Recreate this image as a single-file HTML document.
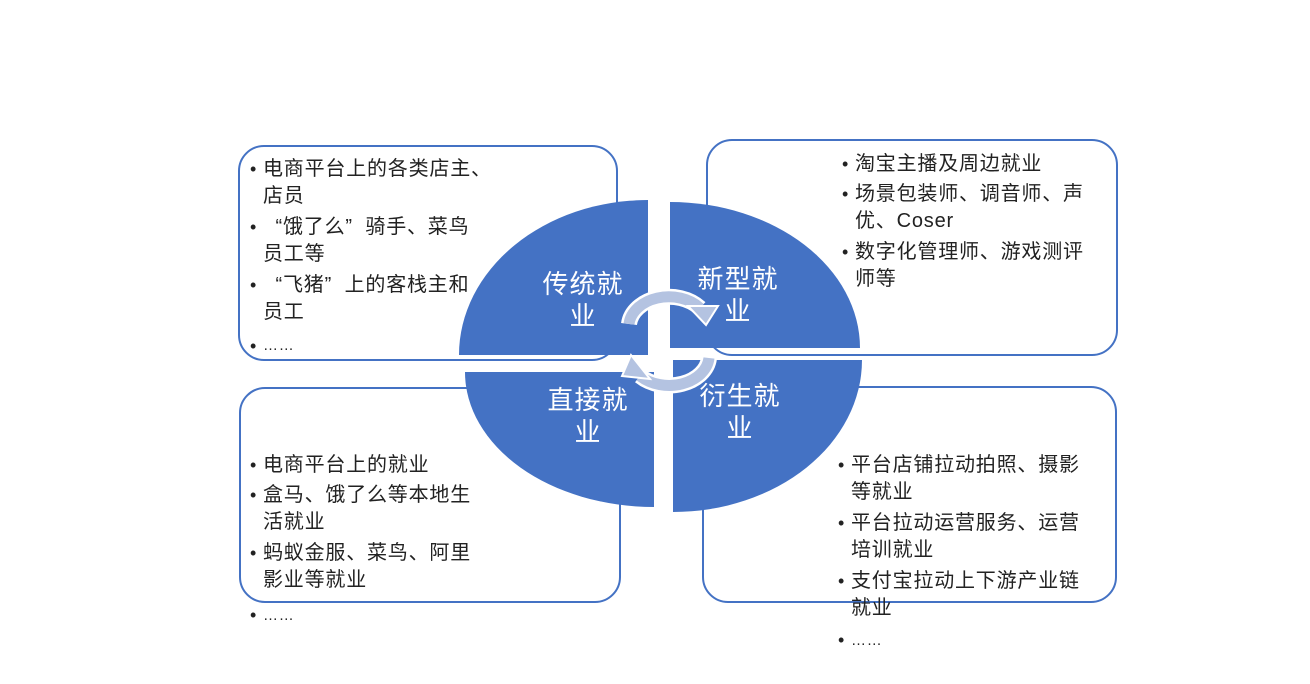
<!DOCTYPE html>
<html><head><meta charset="utf-8"><style>
html,body{margin:0;padding:0;background:#fff;}
body{width:1310px;height:684px;position:relative;overflow:hidden;font-family:"Liberation Sans","Noto Sans CJK SC",sans-serif;}
.box{position:absolute;border:2.5px solid #4472c4;border-radius:26px;box-sizing:border-box;background:#fff;}
.t{position:absolute;font-size:20px;color:#222;white-space:nowrap;letter-spacing:0.8px;line-height:24px;}
.b{position:absolute;font-size:18px;color:#222;line-height:24px;}
.q{display:inline-block;width:20px;text-align:right;}
.q2{display:inline-block;width:20px;text-align:left;}
svg{position:absolute;left:0;top:0;}
.lab{position:absolute;color:#fff;font-size:26px;line-height:32px;text-align:center;width:120px;letter-spacing:1px;}
</style></head><body>
<div class="box" style="left:238px;top:145px;width:380px;height:216px"></div>
<div class="box" style="left:706px;top:139px;width:412px;height:217px"></div>
<div class="box" style="left:239px;top:387px;width:382px;height:216px"></div>
<div class="box" style="left:702px;top:386px;width:415px;height:217px"></div>

<!-- TL -->
<div class="b" style="left:250px;top:157px">•</div><div class="t" style="left:263px;top:157px">电商平台上的各类店主、</div>
<div class="t" style="left:263px;top:184px">店员</div>
<div class="b" style="left:250px;top:215px">•</div><div class="t" style="left:263px;top:215px"><span class="q">“</span>饿了么<span class="q2">”</span>骑手、菜鸟</div>
<div class="t" style="left:263px;top:242px">员工等</div>
<div class="b" style="left:250px;top:273px">•</div><div class="t" style="left:263px;top:273px"><span class="q">“</span>飞猪<span class="q2">”</span>上的客栈主和</div>
<div class="t" style="left:263px;top:300px">员工</div>
<div class="b" style="left:250px;top:334px">•</div><div class="t" style="left:263px;top:334px;font-size:15px">……</div>
<!-- TR -->
<div class="b" style="left:842px;top:152px">•</div><div class="t" style="left:855px;top:152px">淘宝主播及周边就业</div>
<div class="b" style="left:842px;top:182px">•</div><div class="t" style="left:855px;top:182px">场景包装师、调音师、声</div>
<div class="t" style="left:855px;top:209px">优、Coser</div>
<div class="b" style="left:842px;top:240px">•</div><div class="t" style="left:855px;top:240px">数字化管理师、游戏测评</div>
<div class="t" style="left:855px;top:267px">师等</div>
<!-- BL -->
<div class="b" style="left:250px;top:453px">•</div><div class="t" style="left:263px;top:453px">电商平台上的就业</div>
<div class="b" style="left:250px;top:483px">•</div><div class="t" style="left:263px;top:483px">盒马、饿了么等本地生</div>
<div class="t" style="left:263px;top:510px">活就业</div>
<div class="b" style="left:250px;top:541px">•</div><div class="t" style="left:263px;top:541px">蚂蚁金服、菜鸟、阿里</div>
<div class="t" style="left:263px;top:568px">影业等就业</div>
<div class="b" style="left:250px;top:603px">•</div><div class="t" style="left:263px;top:604px;font-size:15px">……</div>
<!-- BR -->
<div class="b" style="left:838px;top:453px">•</div><div class="t" style="left:851px;top:453px">平台店铺拉动拍照、摄影</div>
<div class="t" style="left:851px;top:480px">等就业</div>
<div class="b" style="left:838px;top:511px">•</div><div class="t" style="left:851px;top:511px">平台拉动运营服务、运营</div>
<div class="t" style="left:851px;top:538px">培训就业</div>
<div class="b" style="left:838px;top:569px">•</div><div class="t" style="left:851px;top:569px">支付宝拉动上下游产业链</div>
<div class="t" style="left:851px;top:596px">就业</div>
<div class="b" style="left:838px;top:628px">•</div><div class="t" style="left:851px;top:629px;font-size:15px">……</div>

<svg width="1310" height="684">
<path d="M648,355 L459,355 A189,155 0 0 1 648,200 Z" fill="#4472c4"/>
<path d="M670,348 L670,202 A190,146 0 0 1 860,348 Z" fill="#4472c4"/>
<path d="M654,372 L465,372 A189,135 0 0 0 654,507 Z" fill="#4472c4"/>
<path d="M673,360 L862,360 A189,152 0 0 1 673,512 Z" fill="#4472c4"/>
<path d="M629,324 A40,30 0 0 1 700,308" fill="none" stroke="#fff" stroke-width="16"/>
<path d="M629,324 A40,30 0 0 1 700,308" fill="none" stroke="#b4c3e1" stroke-width="11"/>
<polygon points="688,306 718,306 706,325" fill="#b4c3e1" stroke="#fff" stroke-width="2"/>
<path d="M709,358 A40,30 0 0 1 640,376" fill="none" stroke="#fff" stroke-width="16"/>
<path d="M709,358 A40,30 0 0 1 640,376" fill="none" stroke="#b4c3e1" stroke-width="11"/>
<polygon points="650,379 622,376 631,355" fill="#b4c3e1" stroke="#fff" stroke-width="2"/>
</svg>
<div class="lab" style="left:523px;top:268px">传统就<br>业</div>
<div class="lab" style="left:678px;top:263px">新型就<br>业</div>
<div class="lab" style="left:528px;top:384px">直接就<br>业</div>
<div class="lab" style="left:680px;top:380px">衍生就<br>业</div>
</body></html>
